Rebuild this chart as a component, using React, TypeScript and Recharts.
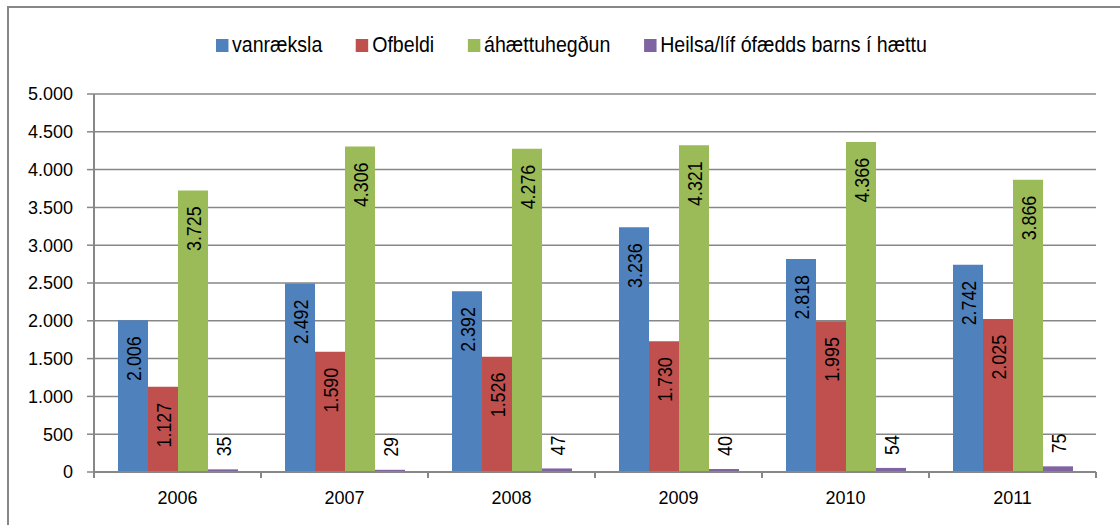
import React from 'react';
import { BarChart, Bar, XAxis, YAxis, CartesianGrid, LabelList } from 'recharts';

const years = ['2006', '2007', '2008', '2009', '2010', '2011'];
const vanraeksla = [2006, 2492, 2392, 3236, 2818, 2742];
const ofbeldi = [1127, 1590, 1526, 1730, 1995, 2025];
const ahaettuhegdun = [3725, 4306, 4276, 4321, 4366, 3866];
const heilsa = [35, 29, 47, 40, 54, 75];
const yTicks = [0, 500, 1000, 1500, 2000, 2500, 3000, 3500, 4000, 4500, 5000];

const series = [
  { key: 'vanraeksla', name: 'vanræksla', color: '#4F81BD' },
  { key: 'ofbeldi', name: 'Ofbeldi', color: '#C0504D' },
  { key: 'ahaettuhegdun', name: 'áhættuhegðun', color: '#9BBB59' },
  { key: 'heilsa', name: 'Heilsa/líf ófædds barns í hættu', color: '#8064A2' },
];

const data = years.map((year, i) => ({
  year,
  vanraeksla: vanraeksla[i],
  ofbeldi: ofbeldi[i],
  ahaettuhegdun: ahaettuhegdun[i],
  heilsa: heilsa[i],
}));

const W = 1120;
const H = 525;
const PLOT_LEFT = 94;
const PLOT_RIGHT = 1096;
const PLOT_BOTTOM = 472;
const BAND = (PLOT_RIGHT - PLOT_LEFT) / years.length;
const GRAY = '#878787';
const FONT = '"Liberation Sans", Arial, sans-serif';

// icelandic thousands separator
const fmt = (v: number) => String(v).replace(/\B(?=(\d{3})+(?!\d))/g, '.');

function BarLabel(props: any) {
  const { x, y, width, height, value } = props;
  if (value === undefined || value === null) return null;
  const cx = Number(x) + Number(width) / 2;
  const top = Number(y);
  const inside = Number(height) > 80;
  const ay = inside ? top + 16 : top - 13;
  // rotated and squeezed along the reading direction (narrow face)
  return (
    <text
      x={0}
      y={0}
      dy="0.36em"
      transform={`translate(${cx} ${ay}) rotate(-90) scale(0.85 1)`}
      textAnchor={inside ? 'end' : 'start'}
      fontSize={21}
      fontFamily={FONT}
      fill="#000"
    >
      {fmt(Number(value))}
    </text>
  );
}

function YearTick(props: any) {
  const { x, y, payload, index } = props;
  const last = index === years.length - 1;
  return (
    <g>
      <line x1={x - BAND / 2} y1={y} x2={x - BAND / 2} y2={y + 6} stroke={GRAY} strokeWidth={2} />
      {last && <line x1={x + BAND / 2} y1={y} x2={x + BAND / 2} y2={y + 6} stroke={GRAY} strokeWidth={2} />}
      <text x={x} y={y + 32} textAnchor="middle" fontSize={18} fontFamily={FONT} fill="#000">
        {payload.value}
      </text>
    </g>
  );
}

export default function App() {
  return (
    <div
      style={{
        position: 'absolute',
        left: 0,
        top: 0,
        width: W,
        height: H,
        overflow: 'hidden',
        background: '#fff',
      }}
    >
      <div
        style={{
          position: 'absolute',
          left: 7,
          top: 6,
          width: 1400,
          height: 800,
          border: `2px solid ${GRAY}`,
        }}
      />
      <div
        style={{
          position: 'absolute',
          left: 216,
          top: 32,
          display: 'flex',
          alignItems: 'center',
          gap: 38,
          fontFamily: FONT,
          fontSize: 22,
          color: '#000',
          whiteSpace: 'nowrap',
          transform: 'scaleX(0.89)',
          transformOrigin: 'left center',
        }}
      >
        {series.map((s) => (
          <div key={s.key} style={{ display: 'flex', alignItems: 'center', gap: 4 }}>
            <span style={{ display: 'inline-block', width: 14, height: 13, background: s.color }} />
            <span>{s.name}</span>
          </div>
        ))}
      </div>
      <div style={{ position: 'absolute', left: 0, top: 0 }}>
        <BarChart
          width={W}
          height={H}
          data={data}
          margin={{ top: 94, right: W - PLOT_RIGHT, bottom: 0, left: 0 }}
          barSize={30}
          barGap={0}
        >
          <CartesianGrid vertical={false} stroke={GRAY} strokeWidth={1.5} />
          <XAxis
            dataKey="year"
            height={H - PLOT_BOTTOM}
            tickLine={false}
            tickSize={0}
            tickMargin={0}
            axisLine={{ stroke: GRAY, strokeWidth: 2 }}
            tick={<YearTick />}
            interval={0}
          />
          <YAxis
            width={PLOT_LEFT}
            domain={[0, 5000]}
            ticks={yTicks}
            interval={0}
            tickFormatter={fmt}
            tickSize={7}
            tickMargin={14}
            tickLine={{ stroke: GRAY, strokeWidth: 1.5 }}
            axisLine={{ stroke: GRAY, strokeWidth: 2 }}
            tick={{ fill: '#000', fontSize: 18, fontFamily: FONT }}
          />
          {series.map((s) => (
            <Bar key={s.key} dataKey={s.key} name={s.name} fill={s.color} isAnimationActive={false}>
              <LabelList dataKey={s.key} content={<BarLabel />} />
            </Bar>
          ))}
        </BarChart>
      </div>
    </div>
  );
}
